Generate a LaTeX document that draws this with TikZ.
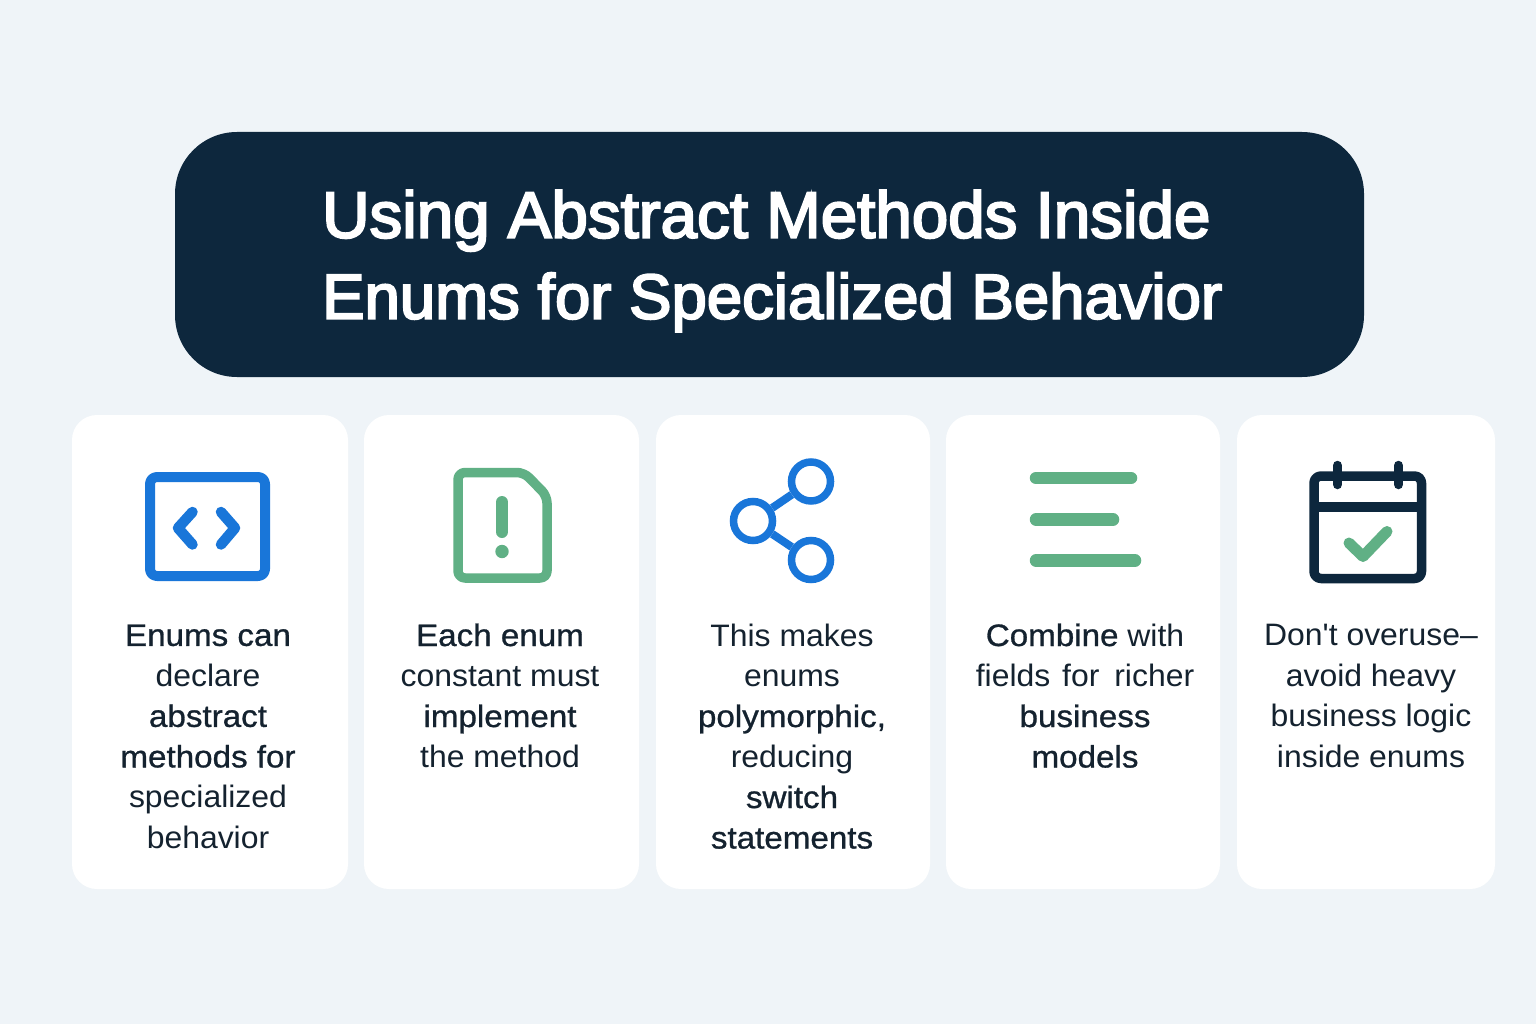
\documentclass[tikz,border=0pt]{standalone}
\usepackage{fontspec}
\newfontfamily\bodyfont[FakeStretch=1.03]{Liberation Sans}
\newfontfamily\medfont[FakeBold=0.9,FakeStretch=1.07]{Liberation Sans}
\newfontfamily\titlefont[FakeBold=3.2]{Liberation Sans}
\newcommand{\med}[1]{{\medfont #1}}
\usetikzlibrary{positioning}
\definecolor{pagebg}{HTML}{EFF4F8}
\definecolor{navy}{HTML}{0D273D}
\definecolor{iconblue}{HTML}{1976D9}
\definecolor{icongreen}{HTML}{60B085}
\definecolor{inktext}{HTML}{14222F}
\tikzset{
  card/.style={fill=white, rounded corners=25pt},
  cardtext/.style={text=inktext, align=center, anchor=north, font=\bodyfont\fontsize{31}{40.5}\selectfont},
  blueline/.style={draw=iconblue, line width=10pt, line join=round, line cap=round},
  greenline/.style={draw=icongreen, line width=9.5pt, line join=round, line cap=round},
  navyline/.style={draw=navy, line width=9.5pt, line join=round, line cap=round},
  sharering/.style={circle, draw=iconblue, line width=7.5pt, minimum size=39pt, inner sep=0pt},
}
\begin{document}
\begin{tikzpicture}[x=1pt, y=-1pt]
\useasboundingbox (0,0) rectangle (1536,1024);
\fill[pagebg] (0,0) rectangle (1536,1024);
% title
\fill[navy, rounded corners=62pt] (175,132) rectangle (1364,377);
\node[text=white, align=left, anchor=west, inner sep=0pt, font=\titlefont\fontsize{65.5}{81}\selectfont] (title) at (322,261) {Using Abstract Methods Inside\\\fontsize{63.5}{81}\selectfont Enums for Specialized Behavior};
% cards
\fill[card] (72,415) rectangle (348,889);
\fill[card] (364,415) rectangle (639,889);
\fill[card] (656,415) rectangle (930,889);
\fill[card] (946,415) rectangle (1220,889);
\fill[card] (1237,415) rectangle (1495,889);
% code icon
\draw[blueline, rounded corners=7pt] (150,477) rectangle (265,576);
\draw[iconblue, line width=10.5pt, line cap=round, line join=round] (192.5,512) -- (178,528) -- (192.5,544.5);
\draw[iconblue, line width=10.5pt, line cap=round, line join=round] (221,512) -- (235,528) -- (221,544.5);
% note icon
\draw[greenline, rounded corners=7pt] (458,472.5) -- (524,472.5) -- (547,496) -- (547,578) -- (458,578) -- cycle;
\draw[icongreen, line width=12pt, line cap=round] (502,502) -- (502,532);
\fill[icongreen] (502,551.5) circle (6.7pt);
% share icon
\node[sharering] (hub) at (753,521) {};
\node[sharering] (top) at (811,481.5) {};
\node[sharering] (bottom) at (811,560) {};
\draw[iconblue, line width=8pt] (hub) -- (top);
\draw[iconblue, line width=8pt] (hub) -- (bottom);
% list icon
\draw[icongreen, line width=12.5pt, line cap=round] (1036,478) -- (1131,478);
\draw[icongreen, line width=12.5pt, line cap=round] (1036,519.5) -- (1113,519.5);
\draw[icongreen, line width=12.5pt, line cap=round] (1036,560.5) -- (1135,560.5);
% calendar icon
\draw[navyline, rounded corners=7pt] (1314,476) rectangle (1421.5,578.5);
\draw[navy, line width=9.5pt] (1314,507) -- (1421.5,507);
\draw[navyline] (1337.5,465.5) -- (1337.5,484.5);
\draw[navyline] (1398.5,465.5) -- (1398.5,484.5);
\draw[icongreen, line width=11pt, line cap=round, line join=round] (1349,543) -- (1363,556.5) -- (1387,531.5);
% texts
\node[cardtext] (txta) at (208,621) {\med{Enums can}\\declare\\\med{abstract}\\\med{methods for}\\specialized\\behavior};
\node[cardtext] (txtb) at (500,620) {\med{Each enum}\\constant must\\\med{implement}\\the method};
\node[cardtext] (txtc) at (792,620) {This makes\\enums\\\med{polymorphic,}\\reducing\\\med{switch}\\\med{statements}};
\node[cardtext] (txtd) at (1085,620) {\med{Combine} with\\fields\hspace{3pt} for\hspace{6pt} richer\\\med{business}\\\med{models}};
\node[cardtext] (txte) at (1371,621) {Don't overuse–\\avoid heavy\\business logic\\inside enums};
\end{tikzpicture}
\end{document}
